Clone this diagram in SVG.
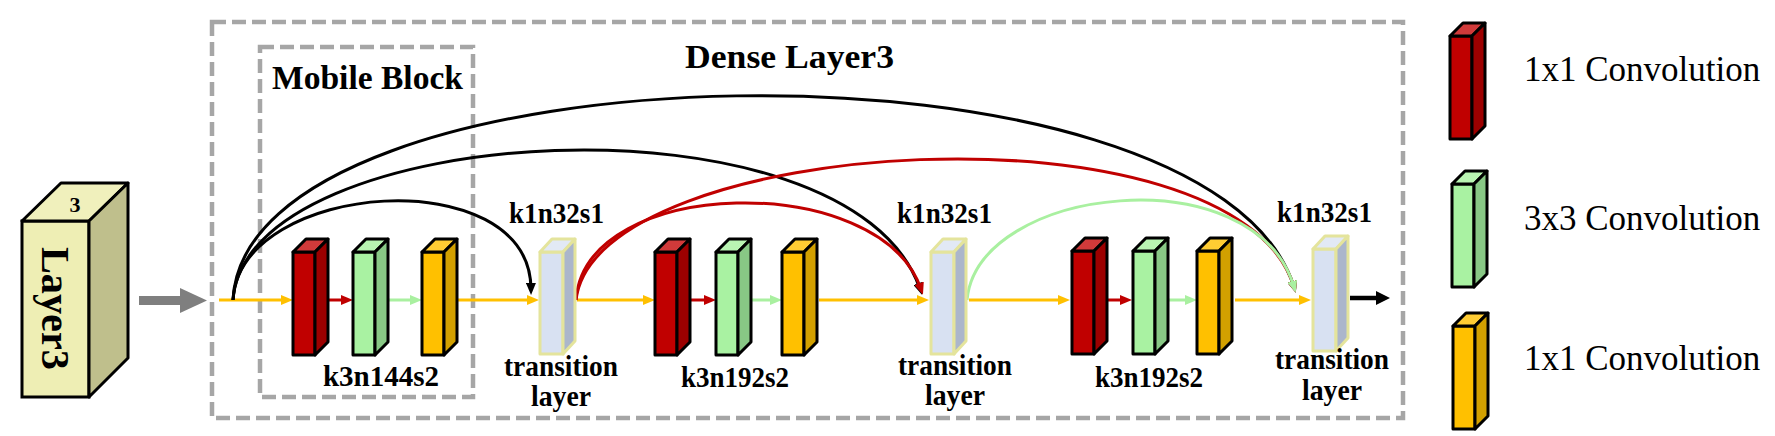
<svg xmlns="http://www.w3.org/2000/svg" xmlns:xlink="http://www.w3.org/1999/xlink" width="1775" height="436" viewBox="0 0 1775 436">
<style>
.dash{fill:none;stroke:#a6a6a6;stroke-width:4.5;stroke-dasharray:14 6}
.lbl{font-family:"Liberation Serif","Times New Roman",serif;font-weight:bold;fill:#000}
.leg{font-family:"Liberation Serif","Times New Roman",serif;font-size:35px;fill:#000}
.ln{fill:none;stroke-width:3}
.blk polygon,.blk rect{stroke:#000;stroke-width:3;stroke-linejoin:round}
.tr polygon,.tr rect{stroke:#e4e49c;stroke-width:3;stroke-linejoin:round}
</style>
<defs>
<marker id="mY" viewBox="0 0 12 10" refX="6" refY="5" markerWidth="12" markerHeight="10" orient="auto" markerUnits="userSpaceOnUse"><path d="M0,0 L12,5 L0,10 z" fill="#ffc000"/></marker>
<marker id="mR" viewBox="0 0 12 10" refX="6" refY="5" markerWidth="12" markerHeight="10" orient="auto" markerUnits="userSpaceOnUse"><path d="M0,0 L12,5 L0,10 z" fill="#c00000"/></marker>
<marker id="mG" viewBox="0 0 12 10" refX="6" refY="5" markerWidth="12" markerHeight="10" orient="auto" markerUnits="userSpaceOnUse"><path d="M0,0 L12,5 L0,10 z" fill="#a9f0a0"/></marker>
<marker id="mK" viewBox="0 0 12 10" refX="6" refY="5" markerWidth="12" markerHeight="10" orient="auto" markerUnits="userSpaceOnUse"><path d="M0,0 L12,5 L0,10 z" fill="#000"/></marker>
<marker id="mKb" viewBox="0 0 14 14" refX="6" refY="7" markerWidth="14" markerHeight="14" orient="auto" markerUnits="userSpaceOnUse"><path d="M0,0 L14,7 L0,14 z" fill="#000"/></marker>
<g id="bR" class="blk"><rect x="0" y="0" width="22" height="103" fill="#c00000"/><polygon points="0,0 22,0 35,-13 13,-13" fill="#d03a3a"/><polygon points="22,0 35,-13 35,90 22,103" fill="#9c0000"/></g>
<g id="bG" class="blk"><rect x="0" y="0" width="22" height="103" fill="#a9f2a2"/><polygon points="0,0 22,0 35,-13 13,-13" fill="#b9f4b2"/><polygon points="22,0 35,-13 35,90 22,103" fill="#88c885"/></g>
<g id="bY" class="blk"><rect x="0" y="0" width="22" height="103" fill="#ffc000"/><polygon points="0,0 22,0 35,-13 13,-13" fill="#ffcc33"/><polygon points="22,0 35,-13 35,90 22,103" fill="#d2a000"/></g>
<g id="bT" class="tr"><rect x="0" y="0" width="23" height="102" fill="#d8e1f2"/><polygon points="0,0 23,0 35,-13 12,-13" fill="#e2e9f5"/><polygon points="23,0 35,-13 35,89 23,102" fill="#abb6cb"/></g>
</defs>
<rect width="1775" height="436" fill="#fff"/>

<g id="dense-layer3">
<rect class="dash" x="212" y="22" width="1191" height="396"/>
<text class="lbl" x="685" y="68" font-size="33" textLength="209" lengthAdjust="spacingAndGlyphs">Dense Layer3</text>
</g>
<g id="mobile-block">
<rect class="dash" x="260" y="47" width="213" height="350"/>
<text class="lbl" x="272" y="89" font-size="33" textLength="191" lengthAdjust="spacingAndGlyphs">Mobile Block</text>
</g>

<g id="layer3">
<rect x="22" y="221" width="67" height="176" fill="#eeeeb4" stroke="#000" stroke-width="3"/>
<polygon points="22,221 89,221 128,183 61,183" fill="#f0f0bc" stroke="#000" stroke-width="3" stroke-linejoin="round"/>
<polygon points="89,221 128,183 128,358 89,397" fill="#bfbf8c" stroke="#000" stroke-width="3" stroke-linejoin="round"/>
<text class="lbl" x="75" y="212" font-size="22" text-anchor="middle">3</text>
<text class="lbl" x="-61" y="0" font-size="40" textLength="123" lengthAdjust="spacingAndGlyphs" transform="translate(42,308) rotate(90)">Layer3</text>
</g>

<g id="input-arrow">
<rect x="139" y="296" width="43" height="9" fill="#7f7f7f"/>
<polygon points="180,288 207,300.5 180,313" fill="#7f7f7f"/>
</g>

<g id="connectors">
<path class="ln" stroke="#ffc000" d="M219,300 H287" marker-end="url(#mY)"/>
<path class="ln" stroke="#c00000" d="M316,300 H347" marker-end="url(#mR)"/>
<path class="ln" stroke="#a9f0a0" d="M376,300 H416" marker-end="url(#mG)"/>
<path class="ln" stroke="#ffc000" d="M445,300 H533" marker-end="url(#mY)"/>
<path class="ln" stroke="#ffc000" d="M577,300 H649" marker-end="url(#mY)"/>
<path class="ln" stroke="#c00000" d="M678,300 H710" marker-end="url(#mR)"/>
<path class="ln" stroke="#a9f0a0" d="M739,300 H776" marker-end="url(#mG)"/>
<path class="ln" stroke="#ffc000" d="M819,300 H923" marker-end="url(#mY)"/>
<path class="ln" stroke="#ffc000" d="M969,300 H1064" marker-end="url(#mY)"/>
<path class="ln" stroke="#c00000" d="M1094,300 H1126" marker-end="url(#mR)"/>
<path class="ln" stroke="#a9f0a0" d="M1155,300 H1191" marker-end="url(#mG)"/>
<path class="ln" stroke="#ffc000" d="M1235,300 H1305" marker-end="url(#mY)"/>
<path fill="none" stroke="#000" stroke-width="4.5" d="M1350,298 H1382" marker-end="url(#mKb)"/>

<path class="ln" stroke="#000" d="M233,300 C240,180 530,160 531,289" marker-end="url(#mK)"/>
<path class="ln" stroke="#000" d="M233,300 C245,120 850,85 920,289" marker-end="url(#mK)"/>
<path class="ln" stroke="#000" d="M233,300 C245,40 1210,20 1294,287" marker-end="url(#mK)"/>
<path class="ln" stroke="#c00000" d="M576,300 C585,175 880,170 921,289" marker-end="url(#mR)"/>
<path class="ln" stroke="#c00000" d="M576,300 C595,135 1235,95 1294,287" marker-end="url(#mR)"/>
<path class="ln" stroke="#a9f0a0" d="M967,300 C978,185 1255,155 1294,287" marker-end="url(#mG)"/>
</g>

<g id="mobile-block-1">
<use xlink:href="#bR" x="293" y="252"/>
<use xlink:href="#bG" x="353" y="252"/>
<use xlink:href="#bY" x="422" y="252"/>
<text class="lbl" x="323" y="386" font-size="29" textLength="116" lengthAdjust="spacingAndGlyphs">k3n144s2</text>
</g>
<g id="transition-1">
<use xlink:href="#bT" x="540" y="252"/>
<text class="lbl" x="509" y="223" font-size="29" textLength="95" lengthAdjust="spacingAndGlyphs">k1n32s1</text>
<text class="lbl" x="504" y="376" font-size="29" textLength="114" lengthAdjust="spacingAndGlyphs">transition</text>
<text class="lbl" x="531" y="406" font-size="29" textLength="60" lengthAdjust="spacingAndGlyphs">layer</text>
</g>
<g id="mobile-block-2">
<use xlink:href="#bR" x="655" y="252"/>
<use xlink:href="#bG" x="716" y="252"/>
<use xlink:href="#bY" x="782" y="252"/>
<text class="lbl" x="681" y="387" font-size="29" textLength="108" lengthAdjust="spacingAndGlyphs">k3n192s2</text>
</g>
<g id="transition-2">
<use xlink:href="#bT" x="931" y="252"/>
<text class="lbl" x="897" y="223" font-size="29" textLength="95" lengthAdjust="spacingAndGlyphs">k1n32s1</text>
<text class="lbl" x="898" y="375" font-size="29" textLength="114" lengthAdjust="spacingAndGlyphs">transition</text>
<text class="lbl" x="925" y="405" font-size="29" textLength="60" lengthAdjust="spacingAndGlyphs">layer</text>
</g>
<g id="mobile-block-3">
<use xlink:href="#bR" x="1072" y="251"/>
<use xlink:href="#bG" x="1133" y="251"/>
<use xlink:href="#bY" x="1197" y="251"/>
<text class="lbl" x="1095" y="387" font-size="29" textLength="108" lengthAdjust="spacingAndGlyphs">k3n192s2</text>
</g>
<g id="transition-3">
<use xlink:href="#bT" x="1313" y="249"/>
<text class="lbl" x="1277" y="222" font-size="29" textLength="95" lengthAdjust="spacingAndGlyphs">k1n32s1</text>
<text class="lbl" x="1275" y="369" font-size="29" textLength="114" lengthAdjust="spacingAndGlyphs">transition</text>
<text class="lbl" x="1302" y="400" font-size="29" textLength="60" lengthAdjust="spacingAndGlyphs">layer</text>
</g>

<g id="legend-red">
<use xlink:href="#bR" x="1450" y="36"/>
<text class="leg" x="1524" y="81">1x1 Convolution</text>
</g>
<g id="legend-green">
<use xlink:href="#bG" x="1452" y="184"/>
<text class="leg" x="1524" y="230">3x3 Convolution</text>
</g>
<g id="legend-yellow">
<use xlink:href="#bY" x="1453" y="326"/>
<text class="leg" x="1524" y="370">1x1 Convolution</text>
</g>
</svg>
